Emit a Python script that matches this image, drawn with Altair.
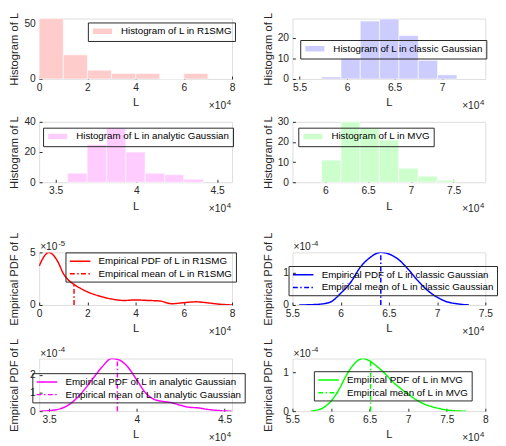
import altair as alt
import pandas as pd

FONT = "Liberation Sans"
INK = "#262626"

# ---------------- histogram data (x in units of 1e4) ----------------
h1_edges = [0, 1, 2, 3, 4, 5, 6, 7]
h1_counts = [55, 22, 8, 5, 5, 0, 5]
h2_edges = [5.732, 5.936, 6.139, 6.343, 6.546, 6.750, 6.953, 7.157]
h2_counts = [1, 10, 28, 29, 21, 9, 2]
h3_edges = [3.574, 3.695, 3.815, 3.934, 4.054, 4.175, 4.293, 4.414]
h3_counts = [6, 25, 36, 20, 6, 5, 2]
h4_edges = [5.955, 6.181, 6.404, 6.630, 6.857, 7.084, 7.310, 7.537]
h4_counts = [11, 30, 27, 21, 7, 3, 1]

# ---------------- empirical PDFs (x in 1e4, y in 1e-5 / 1e-4) ----------------
p5_x = [0, 0.2, 0.4, 0.6, 0.8, 1.0, 1.2, 1.45, 1.7, 2.0, 2.5, 3.0, 3.5, 4.0, 4.5, 5.0, 5.5, 6.0, 6.5, 7.0, 7.5, 8.0]
p5_y = [3.7, 4.6, 5.0, 4.7, 4.0, 3.0, 2.4, 1.95, 1.6, 1.25, 0.85, 0.57, 0.43, 0.48, 0.43, 0.38, 0.12, 0.22, 0.3, 0.2, 0.07, 0.0]
p5_mean, p5_mean_y = 1.446, 1.95

p6_x = [5.57, 5.7, 5.8, 5.9, 6.0, 6.1, 6.2, 6.3, 6.416, 6.5, 6.6, 6.7, 6.8, 6.9, 7.0, 7.1, 7.2, 7.33]
p6_y = [0, 0.01, 0.03, 0.1, 0.36, 0.68, 1.15, 1.45, 1.62, 1.57, 1.4, 1.1, 0.75, 0.45, 0.24, 0.1, 0.04, 0]
p6_mean, p6_mean_y = 6.416, 1.62

p7_x = [3.45, 3.5, 3.55, 3.6, 3.65, 3.7, 3.75, 3.8, 3.856, 3.9, 3.95, 4.0, 4.05, 4.1, 4.15, 4.2, 4.25, 4.3, 4.35, 4.4, 4.45, 4.5, 4.54]
p7_y = [0, 0.03, 0.1, 0.28, 0.64, 1.17, 1.79, 2.4, 2.88, 2.8, 2.4, 1.7, 1.0, 0.64, 0.53, 0.46, 0.32, 0.21, 0.18, 0.1, 0.05, 0.01, 0]
p7_mean, p7_mean_y = 3.889, 2.84

p8_x = [5.74, 5.8, 5.9, 6.0, 6.1, 6.2, 6.3, 6.408, 6.5, 6.6, 6.7, 6.8, 6.9, 7.0, 7.1, 7.2, 7.3, 7.4, 7.5, 7.6, 7.75]
p8_y = [0, 0.02, 0.09, 0.26, 0.55, 0.93, 1.22, 1.36, 1.3, 1.15, 0.97, 0.76, 0.59, 0.44, 0.3, 0.19, 0.12, 0.07, 0.03, 0.01, 0]
p8_mean, p8_mean_y = 6.513, 1.30

W = 198
HH = 62
HP = 54

RECT = "M-2.1,-0.7H2.1V0.7H-2.1Z"
LINE = "M-2.1,0H2.1"
FMT = ".6~g"


def xaxis(ticks):
    return alt.Axis(values=ticks, title="L", grid=False, domain=False, tickSize=3, offset=-3,
                    tickColor=INK, labelPadding=4, labelFontSize=10.5, labelColor=INK, format=FMT,
                    labelFont=FONT, titleFont=FONT, titleFontSize=11.5, titleFontWeight="normal",
                    titleColor=INK, titleY=30.5, titleBaseline="alphabetic", labelFlush=False)


def yaxis(ticks, title, h):
    return alt.Axis(values=ticks, title=title, grid=False, domain=False, tickSize=3, offset=-3,
                    tickColor=INK, labelPadding=4, labelFontSize=10.5, labelColor=INK, format=FMT,
                    labelFont=FONT, titleFont=FONT, titleFontSize=11.5, titleFontWeight="normal",
                    titleColor=INK, titleX=-25, titleY=h / 2, titleAngle=-90, titleAlign="center",
                    titleBaseline="alphabetic", labelFlush=False)


def legend(lx, ly, path):
    return alt.Legend(title=None, orient="none", legendX=lx, legendY=ly, labelFont=FONT,
                      labelFontSize=10, labelColor="black", labelLimit=400, symbolType=path,
                      symbolSize=100, symbolOffset=6, labelOffset=13, padding=3, rowPadding=2,
                      strokeColor=INK, symbolStrokeWidth=1.5)


def txt(s, x, y, size, align):
    return alt.Chart(pd.DataFrame({"t": [s]})).mark_text(
        font=FONT, fontSize=size, color=INK, align=align, baseline="alphabetic"
    ).encode(text="t:N", x=alt.value(x), y=alt.value(y))


def exp_bottom(h, e):
    return [txt("\u00d710", W - 6, h + 31, 10.5, "right"), txt(e, W - 5.5, h + 26.5, 8, "left")]


def exp_top(e):
    return [txt("\u00d710", 1, -2, 10.5, "left"), txt(e, 19.5, -6.5, 8, "left")]


def hist_panel(edges, counts, color, label, xdom, xt, ydom, yt, lx, ly):
    df = pd.DataFrame({"x0": edges[:-1], "x1": edges[1:], "count": counts, "series": [label] * len(counts)})
    bars = alt.Chart(df).mark_rect(stroke="white", strokeWidth=0.6, opacity=1).encode(
        x=alt.X("x0:Q", scale=alt.Scale(domain=xdom, nice=False, zero=False), axis=xaxis(xt)),
        x2="x1:Q",
        y=alt.Y("count:Q", scale=alt.Scale(domain=ydom, nice=False), axis=yaxis(yt, "Histogram of L", HH)),
        y2=alt.datum(0),
        fill=alt.Fill("series:N", scale=alt.Scale(domain=[label], range=[color]), legend=legend(lx, ly, RECT)),
    )
    return alt.layer(bars, *exp_bottom(HH, "4")).properties(width=W, height=HH)


def pdf_panel(xs, ys, m, my, color, name, xdom, xt, ydom, yt, yexp, lx, ly):
    lab_pdf = "Empirical PDF of L in " + name
    lab_mean = "Empirical mean of L in " + name
    dom = [lab_pdf, lab_mean]
    col = alt.Color("series:N", scale=alt.Scale(domain=dom, range=[color, color]), legend=legend(lx, ly, LINE))
    dash = alt.StrokeDash("series:N", scale=alt.Scale(domain=dom, range=[[1, 0], [5, 2.5, 1.5, 2.5]]),
                          legend=legend(lx, ly, LINE))
    xs_ = alt.X("x:Q", scale=alt.Scale(domain=xdom, nice=False, zero=False), axis=xaxis(xt))
    ys_ = alt.Y("y:Q", scale=alt.Scale(domain=ydom, nice=False), axis=yaxis(yt, "Empirical PDF of L", HP))
    ldf = pd.DataFrame({"x": xs, "y": ys, "series": [lab_pdf] * len(xs)})
    line = alt.Chart(ldf).mark_line(strokeWidth=1.5, interpolate="monotone", clip=True).encode(
        x=xs_, y=ys_, color=col, strokeDash=dash)
    mdf = pd.DataFrame({"x": [m], "y": [0.0], "y1": [my], "series": [lab_mean]})
    rule = alt.Chart(mdf).mark_rule(strokeWidth=1.5).encode(x=xs_, y=ys_, y2="y1:Q", color=col, strokeDash=dash)
    return alt.layer(line, rule, *exp_top(yexp), *exp_bottom(HP, "4")).properties(width=W, height=HP)


p1 = hist_panel(h1_edges, h1_counts, "#FFCCCC", "Histogram of L in R1SMG", [0, 8], [0, 2, 4, 6, 8],
                [0, 55], [0, 50], 50, 4)
p2 = hist_panel(h2_edges, h2_counts, "#CCCCFF", "Histogram of L in classic Gaussian", [5.425, 7.456],
                [5.5, 6, 6.5, 7], [0, 29.2], [0, 10, 20], 8, 22)
p3 = hist_panel(h3_edges, h3_counts, "#FFCCFF", "Histogram of L in analytic Gaussian", [3.398, 4.592],
                [3.5, 4, 4.5], [0, 40], [0, 20, 40], 4, 6)
p4 = hist_panel(h4_edges, h4_counts, "#CCFFCC", "Histogram of L in MVG", [5.614, 7.871],
                [6, 6.5, 7, 7.5], [0, 30], [0, 10, 20, 30], 6, 6)

p5 = pdf_panel(p5_x, p5_y, p5_mean, p5_mean_y, "#FF0000", "R1SMG", [0, 8], [0, 2, 4, 6, 8],
               [0, 5], [0, 5], "-5", 27, 0)
p6 = pdf_panel(p6_x, p6_y, p6_mean, p6_mean_y, "#0000FF", "classic Gaussian", [5.5, 7.5],
               [5.5, 6, 6.5, 7, 7.5], [0, 1.62], [0, 1], "-4", -4, 14)
p7 = pdf_panel(p7_x, p7_y, p7_mean, p7_mean_y, "#FF00FF", "analytic Gaussian", [3.443, 4.543],
               [3.5, 4, 4.5], [0, 2.88], [0, 1, 2], "-4", -7, 15)
p8 = pdf_panel(p8_x, p8_y, p8_mean, p8_mean_y, "#00FF00", "MVG", [5.5, 8],
               [5.5, 6, 6.5, 7, 7.5, 8], [0, 1.36], [0, 1], "-4", 22, 13)

IND = dict(x="independent", y="independent", color="independent", fill="independent",
           strokeDash="independent")
LIND = dict(color="independent", fill="independent", strokeDash="independent")


def hc(a, b):
    return alt.hconcat(a, b, spacing=62, bounds="flush").resolve_scale(**IND).resolve_legend(**LIND)


top = alt.vconcat(hc(p1, p2), hc(p3, p4), spacing=3).resolve_scale(**IND).resolve_legend(**LIND)
bot = alt.vconcat(hc(p5, p6), hc(p7, p8), spacing=-1).resolve_scale(**IND).resolve_legend(**LIND)

chart = alt.vconcat(top, bot, spacing=16).resolve_scale(**IND).resolve_legend(**LIND).properties(
    padding={"left": 0, "top": -2, "right": 0, "bottom": 0}
).configure_view(stroke=INK, strokeWidth=0.8).configure(font=FONT)

chart.save("out.html", embed_options={"renderer": "svg", "actions": False})
